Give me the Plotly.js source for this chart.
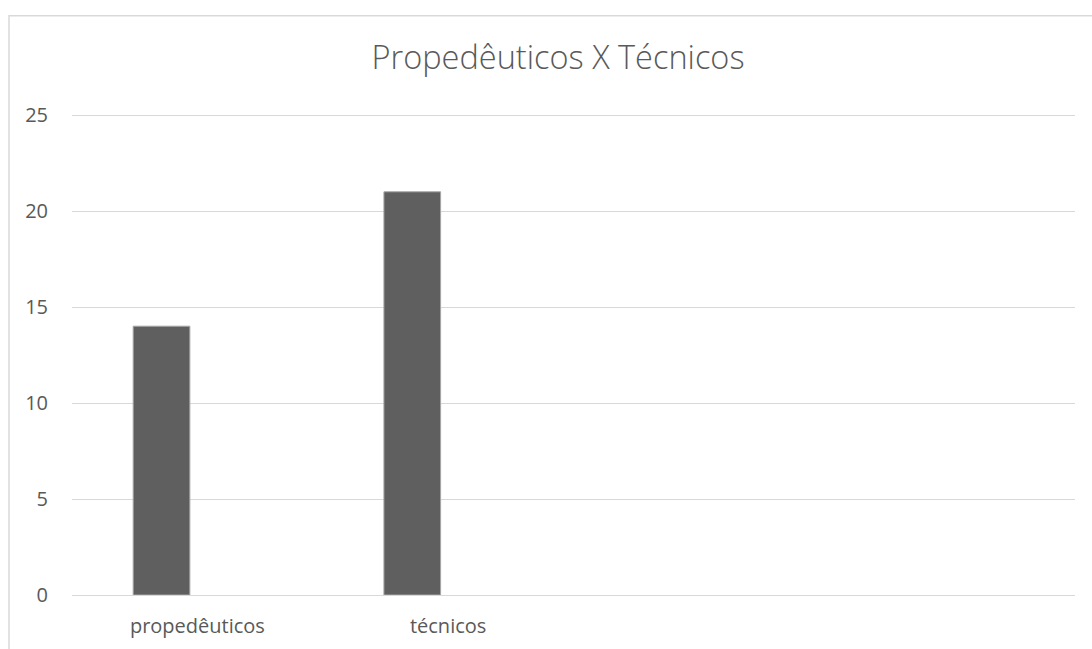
<!DOCTYPE html>
<html>
<head>
<meta charset="utf-8">
<script src="https://cdn.plot.ly/plotly-3.0.1.min.js"></script>
<style>
html,body{margin:0;padding:0;background:#fff;}
#chart{width:1092px;height:649px;}
</style>
</head>
<body>
<div id="chart"></div>
<script>
const categories = ["propedêuticos", "técnicos", " ", "  "];
const values = [14, 21];
const yTicks = [0, 5, 10, 15, 20, 25];
const chartTitle = "Propedêuticos X Técnicos";

const trace = {
  type: "bar",
  x: categories.slice(0, values.length),
  y: values,
  width: 0.226,
  offset: -0.256,
  marker: { color: "#5f5f5f", line: { color: "#a6a6a6", width: 1 } },
  hoverinfo: "x+y"
};

const layout = {
  width: 1092,
  height: 649,
  margin: { l: 72, r: 17, t: 113, b: 54 },
  paper_bgcolor: "#ffffff",
  plot_bgcolor: "#ffffff",
  showlegend: false,
  font: { family: "Open Sans, Liberation Sans, sans-serif", color: "#595959" },
  title: {
    text: chartTitle,
    font: { size: 32.5, color: "#595959", family: "Open Sans, sans-serif", weight: 300 },
    x: 0.4846, xref: "paper", xanchor: "center",
    y: 1 - 58 / 649, yref: "container", yanchor: "middle"
  },
  xaxis: {
    type: "category",
    categoryorder: "array",
    categoryarray: categories,
    range: [-0.5, 3.5],
    showgrid: false,
    zeroline: false,
    showline: false,
    ticks: "",
    tickfont: { size: 20, color: "#595959" },
    ticklabelstandoff: 17
  },
  yaxis: {
    range: [0, 25.104],
    tickvals: yTicks,
    showgrid: true,
    gridcolor: "#d9d9d9",
    gridwidth: 1,
    zeroline: true,
    zerolinecolor: "#d9d9d9",
    zerolinewidth: 1,
    showline: false,
    ticks: "",
    tickfont: { size: 20, color: "#595959" },
    ticklabelstandoff: 23
  },
  shapes: [{
    type: "rect",
    xref: "paper", yref: "paper",
    x0: -0.0628, x1: 1.2, y0: -0.3, y1: 1.202,
    line: { color: "#d9d9d9", width: 1.5 },
    fillcolor: "rgba(0,0,0,0)",
    layer: "below"
  }]
};

Plotly.newPlot("chart", [trace], layout, { displayModeBar: false, staticPlot: true });
</script>
</body>
</html>
